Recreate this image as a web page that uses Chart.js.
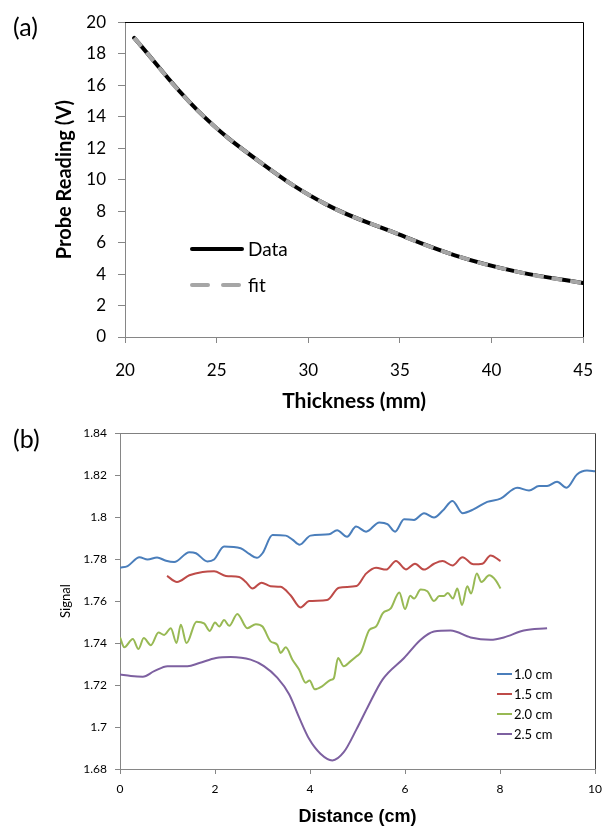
<!DOCTYPE html>
<html>
<head>
<meta charset="utf-8">
<script src="https://cdn.jsdelivr.net/npm/chart.js@4.4.1/dist/chart.umd.min.js"></script>
<style>
  html, body { margin: 0; padding: 0; background: #fff; }
  #page { position: relative; width: 610px; height: 827px; overflow: hidden; }
  canvas { position: absolute; left: 0; }
  #chartA { top: 0; }
  #chartB { top: 418px; }
  .tag { position: absolute; left: 13px; font-family: Lato, sans-serif; font-size: 25px; line-height: 1; color: #000; }
</style>
</head>
<body>
<div id="page">
  <canvas id="chartA" width="610" height="418"></canvas>
  <canvas id="chartB" width="610" height="409"></canvas>
  <div class="tag" style="top:14px">(a)</div>
  <div class="tag" style="top:426px">(b)</div>
</div>
<script>
// (a) probe reading vs thickness
const thicknessMm = [20.5, 24, 27.5, 31, 34.5, 38, 41.5, 45];
const probeData   = [19.0, 14.35, 11.0, 8.41, 6.72, 5.19, 4.12, 3.43];
const probeFit    = [19.0, 14.35, 11.0, 8.41, 6.72, 5.19, 4.12, 3.42];

// (b) signal vs distance, one pair of arrays per depth
const depthLabels = ['1.0 cm', '1.5 cm', '2.0 cm', '2.5 cm'];

const dist10 = [0, 0.16, 0.41, 0.58, 0.78, 0.97, 1.14, 1.46, 1.60, 1.84, 1.98, 2.19, 2.54, 2.72, 2.88, 3.0, 3.21, 3.49, 3.63, 3.78, 4.01, 4.40, 4.57, 4.78, 4.97, 5.18, 5.46, 5.63, 5.79, 5.98, 6.19, 6.40, 6.61, 6.79, 7.0, 7.21, 7.45, 7.73, 8.01, 8.36, 8.61, 8.82, 8.99, 9.20, 9.40, 9.62, 9.83, 10.0];
const sig10  = [1.7759, 1.7767, 1.7809, 1.7798, 1.7808, 1.7792, 1.7786, 1.7833, 1.7828, 1.7789, 1.7798, 1.7860, 1.7852, 1.7825, 1.7806, 1.7828, 1.7915, 1.7912, 1.7893, 1.7869, 1.7912, 1.7918, 1.7938, 1.7907, 1.7955, 1.7931, 1.7975, 1.7967, 1.7931, 1.7990, 1.7987, 1.8019, 1.7998, 1.8030, 1.8077, 1.8019, 1.8038, 1.8073, 1.8088, 1.8140, 1.8127, 1.8148, 1.8148, 1.8169, 1.8140, 1.8203, 1.8222, 1.8219];

const dist15 = [0.99, 1.20, 1.46, 1.74, 1.98, 2.23, 2.51, 2.65, 2.79, 2.98, 3.17, 3.38, 3.59, 3.80, 3.98, 4.36, 4.61, 4.98, 5.18, 5.39, 5.60, 5.81, 6.02, 6.21, 6.40, 6.61, 6.79, 7.0, 7.21, 7.44, 7.63, 7.80, 8.01];
const sig15  = [1.7720, 1.7691, 1.7723, 1.7739, 1.7742, 1.7720, 1.7715, 1.7691, 1.7660, 1.7688, 1.7671, 1.7668, 1.7628, 1.7570, 1.7600, 1.7605, 1.7664, 1.7672, 1.7731, 1.7759, 1.7750, 1.7791, 1.7751, 1.7778, 1.7750, 1.7778, 1.7791, 1.7770, 1.7809, 1.7775, 1.7778, 1.7817, 1.7791];

const dist20 = [0, 0.09, 0.27, 0.39, 0.50, 0.65, 0.81, 0.93, 1.07, 1.19, 1.28, 1.40, 1.61, 1.77, 1.89, 2.0, 2.09, 2.19, 2.30, 2.47, 2.68, 2.86, 3.0, 3.17, 3.31, 3.38, 3.49, 3.63, 3.77, 3.91, 3.99, 4.10, 4.26, 4.43, 4.50, 4.59, 4.71, 4.85, 4.98, 5.07, 5.25, 5.39, 5.53, 5.70, 5.88, 6.0, 6.11, 6.19, 6.33, 6.47, 6.61, 6.72, 6.82, 6.90, 7.01, 7.10, 7.20, 7.31, 7.39, 7.51, 7.61, 7.77, 7.91, 8.01];
const sig20  = [1.7427, 1.7380, 1.7419, 1.7372, 1.7424, 1.7390, 1.7450, 1.7439, 1.7471, 1.7400, 1.7487, 1.7400, 1.7502, 1.7494, 1.7458, 1.7498, 1.7479, 1.7510, 1.7482, 1.7539, 1.7471, 1.7490, 1.7479, 1.7408, 1.7392, 1.7353, 1.7380, 1.7321, 1.7274, 1.7211, 1.7222, 1.7180, 1.7195, 1.7224, 1.7232, 1.7329, 1.7290, 1.7313, 1.7337, 1.7356, 1.7463, 1.7479, 1.7542, 1.7565, 1.7641, 1.7562, 1.7625, 1.7612, 1.7655, 1.7647, 1.7600, 1.7624, 1.7624, 1.7639, 1.7612, 1.7660, 1.7581, 1.7671, 1.7636, 1.7731, 1.7691, 1.7723, 1.7699, 1.7660];

const dist25 = [0, 0.23, 0.48, 0.72, 1.0, 1.42, 1.67, 2.02, 2.33, 2.75, 3.03, 3.31, 3.56, 3.77, 3.98, 4.22, 4.47, 4.71, 4.98, 5.21, 5.53, 5.98, 6.33, 6.61, 6.96, 7.38, 7.80, 8.08, 8.50, 8.99];
const sig25  = [1.7250, 1.7243, 1.7240, 1.7266, 1.7290, 1.7290, 1.7305, 1.7329, 1.7334, 1.7321, 1.7290, 1.7235, 1.7156, 1.7046, 1.6944, 1.6873, 1.6841, 1.6880, 1.6990, 1.7093, 1.7227, 1.7329, 1.7416, 1.7455, 1.7460, 1.7427, 1.7416, 1.7427, 1.7460, 1.7471];

function pts(xs, ys) {
    return xs.map((x, i) => ({ x: x, y: ys[i] }));
}

// legend drawn inside the plot area
const insideLegend = {
    id: 'insideLegend',
    afterDraw(chart, args, opts) {
        const ctx = chart.ctx;
        ctx.save();
        ctx.font = opts.font;
        ctx.textBaseline = 'middle';
        ctx.fillStyle = '#000';
        chart.data.datasets.forEach((ds, i) => {
            const y = opts.top + i * opts.rowGap;
            ctx.strokeStyle = ds.borderColor;
            ctx.lineWidth = ds.borderWidth;
            ctx.setLineDash((opts.dashes && opts.dashes[i]) || []);
            ctx.lineCap = opts.cap || 'butt';
            ctx.beginPath();
            ctx.moveTo(opts.left, y);
            ctx.lineTo(opts.left + opts.lineLen, y);
            ctx.stroke();
            ctx.setLineDash([]);
            ctx.fillText(ds.label, opts.left + opts.lineLen + opts.gap, y + 1);
        });
        ctx.restore();
    }
};

// top and right edges of the plot box
const frameLines = {
    id: 'frameLines',
    afterDraw(chart, args, opts) {
        const ctx = chart.ctx;
        const a = chart.chartArea;
        const t = Math.round(a.top) + 0.5;
        const r = Math.round(a.right) + 0.5;
        ctx.save();
        ctx.lineWidth = 1;
        ctx.strokeStyle = opts.topColor;
        ctx.beginPath(); ctx.moveTo(a.left, t); ctx.lineTo(r, t); ctx.stroke();
        ctx.strokeStyle = opts.rightColor;
        ctx.beginPath(); ctx.moveTo(r, t); ctx.lineTo(r, a.bottom); ctx.stroke();
        ctx.restore();
    }
};

new Chart(document.getElementById('chartA'), {
    type: 'line',
    data: {
        datasets: [
            { label: 'Data', data: pts(thicknessMm, probeData), borderColor: '#000000', borderWidth: 4, borderCapStyle: 'round', order: 1 },
            { label: 'fit', data: pts(thicknessMm, probeFit), borderColor: '#a6a6a6', borderWidth: 4, borderDash: [11, 8], borderCapStyle: 'butt', order: 0 }
        ]
    },
    options: {
        responsive: false,
        animation: false,
        layout: { padding: { top: 20, right: 12, left: 0, bottom: 0 } },
        elements: {
            point: { radius: 0 },
            line: { tension: 0.4, fill: false }
        },
        plugins: {
            legend: { display: false },
            tooltip: { enabled: false },
            insideLegend: { left: 192, top: 249, rowGap: 36, lineLen: 50, gap: 6, font: '19px Lato', dashes: [[], [16, 15]], cap: 'round' },
            frameLines: { topColor: '#000000', rightColor: '#000000' }
        },
        scales: {
            x: {
                type: 'linear', min: 20, max: 45,
                afterFit: s => { s.height = 81; },
                border: { color: '#868686' },
                grid: { drawOnChartArea: false, tickLength: 6, tickColor: '#868686' },
                ticks: { stepSize: 5, color: '#000', font: { family: 'Lato', size: 17 }, padding: 17 },
                title: { display: true, text: 'Thickness (mm)', color: '#000', font: { family: 'Lato', size: 21, weight: 'bold' }, padding: { top: 0, bottom: 4 } }
            },
            y: {
                min: 0, max: 20,
                afterFit: s => { s.width = 125; },
                border: { color: '#868686' },
                grid: { drawOnChartArea: false, tickLength: 7, tickColor: '#868686' },
                ticks: { stepSize: 2, color: '#000', font: { family: 'Lato', size: 17 }, padding: 12 },
                title: { display: true, text: 'Probe Reading (V)', color: '#000', font: { family: 'Lato', size: 20, weight: 'bold' }, padding: { top: 53, bottom: 0 } }
            }
        }
    },
    plugins: [insideLegend, frameLines]
});

const depthColors = ['#4a7ebb', '#be4b48', '#98b954', '#7d60a0'];
const depthSeries = [pts(dist10, sig10), pts(dist15, sig15), pts(dist20, sig20), pts(dist25, sig25)];

new Chart(document.getElementById('chartB'), {
    type: 'line',
    data: {
        datasets: depthSeries.map((d, i) => ({
            label: depthLabels[i], data: d, borderColor: depthColors[i], borderWidth: 2
        }))
    },
    options: {
        responsive: false,
        animation: false,
        layout: { padding: { top: 12, right: 14, left: 0, bottom: 0 } },
        elements: {
            point: { radius: 0 },
            line: { cubicInterpolationMode: 'monotone', fill: false }
        },
        plugins: {
            legend: { display: false },
            tooltip: { enabled: false },
            insideLegend: { left: 497, top: 256, rowGap: 20, lineLen: 15, gap: 2, font: '13px Lato' },
            frameLines: { topColor: '#808080', rightColor: '#404040' }
        },
        scales: {
            x: {
                type: 'linear', min: 0, max: 10,
                afterFit: s => { s.height = 58; },
                border: { color: '#868686' },
                grid: { drawOnChartArea: false, tickLength: 5, tickColor: '#868686' },
                ticks: { stepSize: 2, color: '#000', font: { family: 'Lato', size: 12 }, padding: 8 },
                title: { display: true, text: 'Distance (cm)', color: '#000', font: { family: 'Liberation Sans', size: 18, weight: 'bold', lineHeight: 1.15 }, padding: { top: 0, bottom: 0 } }
            },
            y: {
                min: 1.68, max: 1.84,
                afterFit: s => { s.width = 120; },
                border: { color: '#868686' },
                grid: { drawOnChartArea: false, tickLength: 5, tickColor: '#868686' },
                ticks: { stepSize: 0.02, color: '#000', font: { family: 'Lato', size: 12 }, padding: 8,
                    callback: v => String(Math.round(v * 100) / 100) },
                title: { display: true, text: 'Signal', color: '#000', font: { family: 'Lato', size: 13 }, padding: { top: 58, bottom: 0 } }
            }
        }
    },
    plugins: [insideLegend, frameLines]
});
</script>
</body>
</html>
